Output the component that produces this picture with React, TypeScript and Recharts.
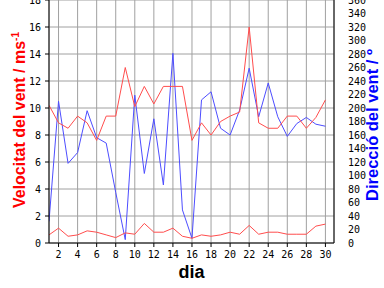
import { LineChart, Line, XAxis, YAxis, CartesianGrid } from 'recharts'

// dades diàries del mes
const days = [1, 2, 3, 4, 5, 6, 7, 8, 9, 10, 11, 12, 13, 14, 15, 16, 17, 18, 19, 20, 21, 22, 23, 24, 25, 26, 27, 28, 29, 30]
const maxSpeed = [10.2, 8.9, 8.5, 9.4, 8.9, 7.6, 9.4, 9.4, 13.0, 10.1, 11.6, 10.3, 11.6, 11.6, 11.6, 7.6, 8.9, 8.0, 9.0, 9.4, 9.7, 16.0, 8.9, 8.5, 8.5, 9.4, 9.4, 8.5, 9.3, 10.6]
const meanSpeed = [0.6, 1.1, 0.5, 0.6, 0.9, 0.8, 0.6, 0.4, 0.75, 0.65, 1.45, 0.8, 0.8, 1.1, 0.5, 0.35, 0.6, 0.5, 0.6, 0.8, 0.65, 1.3, 0.65, 0.8, 0.8, 0.65, 0.65, 0.65, 1.25, 1.4]
const direction = [32, 210, 118, 134, 196, 156, 148, 75, 5, 219, 103, 184, 86, 281, 49, 7, 212, 224, 170, 160, 197, 259, 187, 237, 187, 158, 177, 186, 176, 173]

const dayTicks = [2, 4, 6, 8, 10, 12, 14, 16, 18, 20, 22, 24, 26, 28, 30]
const speedTicks = [0, 2, 4, 6, 8, 10, 12, 14, 16, 18]
const dirTicks = [0, 20, 40, 60, 80, 100, 120, 140, 160, 180, 200, 220, 240, 260, 280, 300, 320, 340, 360]

const data = days.map((day, i) => ({
  day,
  max: maxSpeed[i],
  mean: meanSpeed[i],
  dir: direction[i],
}))

const tickFont = { fontFamily: 'DejaVu Sans Mono', fontSize: 10, fill: '#000' }
const titleFont = '"Liberation Sans", Arial, sans-serif'
const black = { stroke: '#000' }

function SpeedTitle() {
  return (
    <text transform="translate(25,120) rotate(-90)" textAnchor="middle" fill="#ff0000"
      fontFamily={titleFont} fontSize={16} fontWeight="bold">
      Velocitat del vent / ms<tspan dy={-6} fontSize={10}>-1</tspan>
    </text>
  )
}

function DirTitle() {
  return (
    <g>
      <rect x={363} y={45} width={20} height={160} fill="#fff" />
      <text transform="translate(378,125) rotate(-90)" textAnchor="middle" fill="#0000ff"
        fontFamily={titleFont} fontSize={16.5} fontWeight="bold">
        Direcció del vent / º
      </text>
    </g>
  )
}

function DayTitle() {
  return (
    <text x={191.5} y={278} textAnchor="middle" fill="#000"
      fontFamily={titleFont} fontSize={18} fontWeight="bold">
      dia
    </text>
  )
}

export default function App() {
  return (
    <div style={{ position: 'absolute', left: 0, top: 0, background: '#fff' }}>
      <LineChart width={384} height={288} data={data} margin={{ top: 0, right: 0, bottom: 0, left: 0 }}>
        <CartesianGrid yAxisId="left" stroke="#a0a0a0" strokeDasharray="" />
        <XAxis dataKey="day" type="number" domain={[1, 30.9]} ticks={dayTicks} allowDataOverflow interval={0}
          height={45} tickSize={4} tickMargin={4} tick={tickFont}
          axisLine={black} tickLine={black} label={<DayTitle />} />
        <XAxis xAxisId="top" orientation="top" dataKey="day" type="number" domain={[1, 30.9]}
          ticks={dayTicks} allowDataOverflow height={0} mirror tick={false} interval={0}
          axisLine={false} tickLine={black} tickSize={4} />
        <YAxis yAxisId="left" domain={[0, 18]} ticks={speedTicks} width={49} interval={0}
          tickSize={4} tickMargin={4} tick={tickFont} axisLine={black} tickLine={black}
          label={<SpeedTitle />} />
        <YAxis yAxisId="rticks" orientation="right" domain={[0, 360]} ticks={dirTicks} width={0}
          mirror tick={false} axisLine={false} tickLine={black} tickSize={4} interval={0} />
        <YAxis yAxisId="right" orientation="right" domain={[0, 360]} ticks={dirTicks} width={50}
          interval={0} tickSize={4} tickMargin={10} tick={{ ...tickFont, textAnchor: 'start' }}
          axisLine={black} tickLine={false} label={<DirTitle />} />
        <Line yAxisId="right" dataKey="dir" stroke="#4d4dff" strokeWidth={1} dot={false} isAnimationActive={false} />
        <Line yAxisId="left" dataKey="max" stroke="#ff4d4d" strokeWidth={1} dot={false} isAnimationActive={false} />
        <Line yAxisId="left" dataKey="mean" stroke="#ff4d4d" strokeWidth={1} dot={false} isAnimationActive={false} />
      </LineChart>
    </div>
  )
}
